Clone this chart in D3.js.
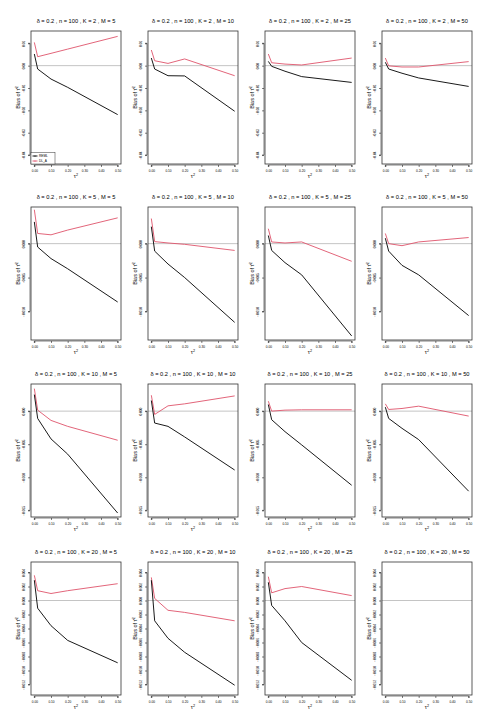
<!DOCTYPE html>
<html>
<head>
<meta charset="utf-8">
<script src="https://cdn.jsdelivr.net/npm/d3@7"></script>
<style>
  body { margin: 0; background: #fff; }
  text { font-family: "Liberation Sans", Arial, sans-serif; }
</style>
</head>
<body>
<div id="chart"></div>
<script>
const width = 495;
const height = 726;

// tau^2 grid (x axis) and design of the panels
const tau2 = [0, 0.02, 0.1, 0.2, 0.5];
const Ks = [2, 5, 10, 20];
const Ms = [5, 10, 25, 50];
const xTicks = [0, 0.1, 0.2, 0.3, 0.4, 0.5];

// bias of tau^2 hat, one array per M (5, 10, 25, 50)
const remlK2 = [
  [0.0052, -0.0015, -0.0060, -0.0097, -0.0219],
  [0.0034, -0.0015, -0.0045, -0.0046, -0.0204],
  [0.0019, -0.0003, -0.0025, -0.0049, -0.0075],
  [0.0015, -0.0015, -0.0034, -0.0055, -0.0093]
];
const dlaK2 = [
  [0.0104, 0.0040, 0.0055, 0.0074, 0.0131],
  [0.0070, 0.0022, 0.0010, 0.0030, -0.0045],
  [0.0052, 0.0013, 0.0007, 0.0003, 0.0034],
  [0.0034, -0.0001, -0.0006, -0.0006, 0.0018]
];
const remlK5 = [
  [0.0032, -0.0005, -0.0022, -0.0037, -0.0086],
  [0.0025, -0.0011, -0.0030, -0.0050, -0.0116],
  [0.0012, -0.0010, -0.0028, -0.0046, -0.0136],
  [0.0008, -0.0011, -0.0032, -0.0046, -0.0106]
];
const dlaK5 = [
  [0.0050, 0.0015, 0.0013, 0.0020, 0.0038],
  [0.0037, 0.0003, 0.0001, -0.0001, -0.0010],
  [0.0022, 0.00025, 0.0001, 0.00025, -0.0026],
  [0.0015, 0.0000, -0.0003, 0.00025, 0.0009]
];
const remlK10 = [
  [0.0025, -0.0011, -0.0042, -0.0065, -0.0154],
  [0.0016, -0.0018, -0.0023, -0.0039, -0.0089],
  [0.0010, -0.0013, -0.0031, -0.0051, -0.0112],
  [0.0006, -0.0011, -0.0026, -0.0043, -0.0121]
];
const dlaK10 = [
  [0.0034, 0.00015, -0.0014, -0.0023, -0.0044],
  [0.0024, -0.0005, 0.0008, 0.0011, 0.0023],
  [0.0015, 0.0000, 0.00015, 0.0002, 0.0002],
  [0.0011, 0.00025, 0.0004, 0.00075, -0.00075]
];
const remlK20 = [
  [0.0029, -0.0011, -0.0036, -0.0057, -0.0089],
  [0.0029, -0.0029, -0.0054, -0.0074, -0.0121],
  [0.0026, -0.0007, -0.0029, -0.0060, -0.0114],
  null
];
const dlaK20 = [
  [0.0036, 0.0014, 0.0010, 0.0014, 0.0024],
  [0.0033, 0.0003, -0.0014, -0.0017, -0.0029],
  [0.0034, 0.0011, 0.0017, 0.0020, 0.0007],
  null
];

const remlRows = [remlK2, remlK5, remlK10, remlK20];
const dlaRows = [dlaK2, dlaK5, dlaK10, dlaK20];

// y axis per row
const yDomains = [[-0.044, 0.0155], [-0.0142, 0.0054], [-0.016, 0.0041], [-0.0135, 0.0055]];
const yTicks = [
  [0.01, 0, -0.01, -0.02, -0.03, -0.04],
  [0, -0.005, -0.01],
  [0, -0.005, -0.01, -0.015],
  [0.004, 0.002, 0, -0.002, -0.004, -0.006, -0.008, -0.010, -0.012]
];
const yFormats = ['.2f', '.3f', '.3f', '.3f'];
const legendLabels = ['REML', 'DL_A'];

const colLeft = [31, 148, 265, 382];
const rowTop = [31, 207, 384, 562];
const boxW = 90;
const boxH = 133;
const black = '#000000';
const red = '#DF536B';
const zeroColor = '#c4c4c4';
const textColor = '#000000';

const svg = d3.select('#chart').append('svg')
  .attr('width', width).attr('height', height);

Ks.forEach((K, r) => {
  Ms.forEach((M, c) => {
    const left = colLeft[c];
    const top = rowTop[r];
    const g = svg.append('g');

    const x = d3.scaleLinear().domain([-0.02, 0.52]).range([left, left + boxW]);
    const y = d3.scaleLinear().domain(yDomains[r]).range([top + boxH, top]);

    // zero reference line
    g.append('line')
      .attr('x1', left).attr('x2', left + boxW)
      .attr('y1', y(0)).attr('y2', y(0))
      .attr('stroke', zeroColor).attr('stroke-width', 1);

    const line = d3.line().x((d, i) => x(tau2[i])).y(d => y(d));

    if (remlRows[r][c]) {
      g.append('path').datum(dlaRows[r][c])
        .attr('d', line).attr('fill', 'none')
        .attr('stroke', red).attr('stroke-width', 0.9);
      g.append('path').datum(remlRows[r][c])
        .attr('d', line).attr('fill', 'none')
        .attr('stroke', black).attr('stroke-width', 0.9);
    }

    // axes
    const xAxis = d3.axisBottom(x).tickValues(xTicks).tickFormat(d3.format('.2f'))
      .tickSize(2).tickPadding(2.5);
    const gx = g.append('g').attr('transform', `translate(0,${top + boxH + 1})`).call(xAxis);
    gx.select('.domain').attr('d', `M${x(0)},2V0H${x(0.5)}V2`).attr('stroke-width', 0.5);
    gx.selectAll('.tick line').attr('stroke-width', 0.5);
    gx.selectAll('text').attr('font-size', 3.2).attr('font-family', 'Liberation Sans, Arial, sans-serif');

    const yAxis = d3.axisLeft(y).tickValues(yTicks[r]).tickFormat(d3.format(yFormats[r]))
      .tickSize(2).tickPadding(2);
    const gy = g.append('g').attr('transform', `translate(${left - 1},0)`).call(yAxis);
    const yt = yTicks[r];
    gy.select('.domain').attr('d', `M-2,${y(d3.min(yt))}H0V${y(d3.max(yt))}H-2`).attr('stroke-width', 0.5);
    gy.selectAll('.tick line').attr('stroke-width', 0.5);
    gy.selectAll('text')
      .attr('font-size', 3.2).attr('font-family', 'Liberation Sans, Arial, sans-serif')
      .attr('text-anchor', 'middle')
      .attr('x', 0).attr('dy', 0)
      .attr('transform', 'translate(-5.5,0) rotate(-90)');

    // plot box
    g.append('rect')
      .attr('x', left).attr('y', top).attr('width', boxW).attr('height', boxH)
      .attr('fill', 'none').attr('stroke', '#333').attr('stroke-width', 0.8);

    // title
    g.append('text')
      .attr('x', left + boxW / 2).attr('y', top - 8)
      .attr('text-anchor', 'middle').attr('font-size', 5.7).attr('fill', textColor)
      .text(`δ = 0.2 , n = 100 , K = ${K} , M = ${M}`);

    // x label
    const xl = g.append('text')
      .attr('x', left + boxW / 2).attr('y', top + boxH + 14)
      .attr('text-anchor', 'middle').attr('font-size', 5.5).attr('fill', textColor);
    xl.append('tspan').attr('fill', textColor).text('τ');
    xl.append('tspan').attr('fill', textColor).attr('font-size', 3.8).attr('dy', -2.5).text('2');

    // y label
    const yl = g.append('text')
      .attr('transform', `translate(${left - 11},${top + boxH / 2}) rotate(-90)`)
      .attr('text-anchor', 'middle').attr('font-size', 5.5).attr('fill', textColor);
    yl.append('tspan').attr('fill', textColor).text('Bias of τ\u0302');
    yl.append('tspan').attr('fill', textColor).attr('font-size', 3.8).attr('dy', -2.5).text('2');

    // legend (first panel only)
    if (r === 0 && c === 0) {
      const lg = g.append('g');
      lg.append('rect')
        .attr('x', left).attr('y', top + boxH - 11.5).attr('width', 24).attr('height', 11.5)
        .attr('fill', '#fff').attr('stroke', '#333').attr('stroke-width', 0.5);
      [black, red].forEach((col, i) => {
        const ly = top + boxH - 8 + i * 5;
        lg.append('line')
          .attr('x1', left + 1.5).attr('x2', left + 6.5).attr('y1', ly).attr('y2', ly)
          .attr('stroke', col).attr('stroke-width', 0.9);
        lg.append('circle').attr('cx', left + 4).attr('cy', ly).attr('r', 0.6).attr('fill', col);
        lg.append('text')
          .attr('x', left + 8).attr('y', ly + 1.1)
          .attr('font-size', 3.2).attr('fill', textColor)
          .text(legendLabels[i]);
      });
    }
  });
});
</script>
</body>
</html>
